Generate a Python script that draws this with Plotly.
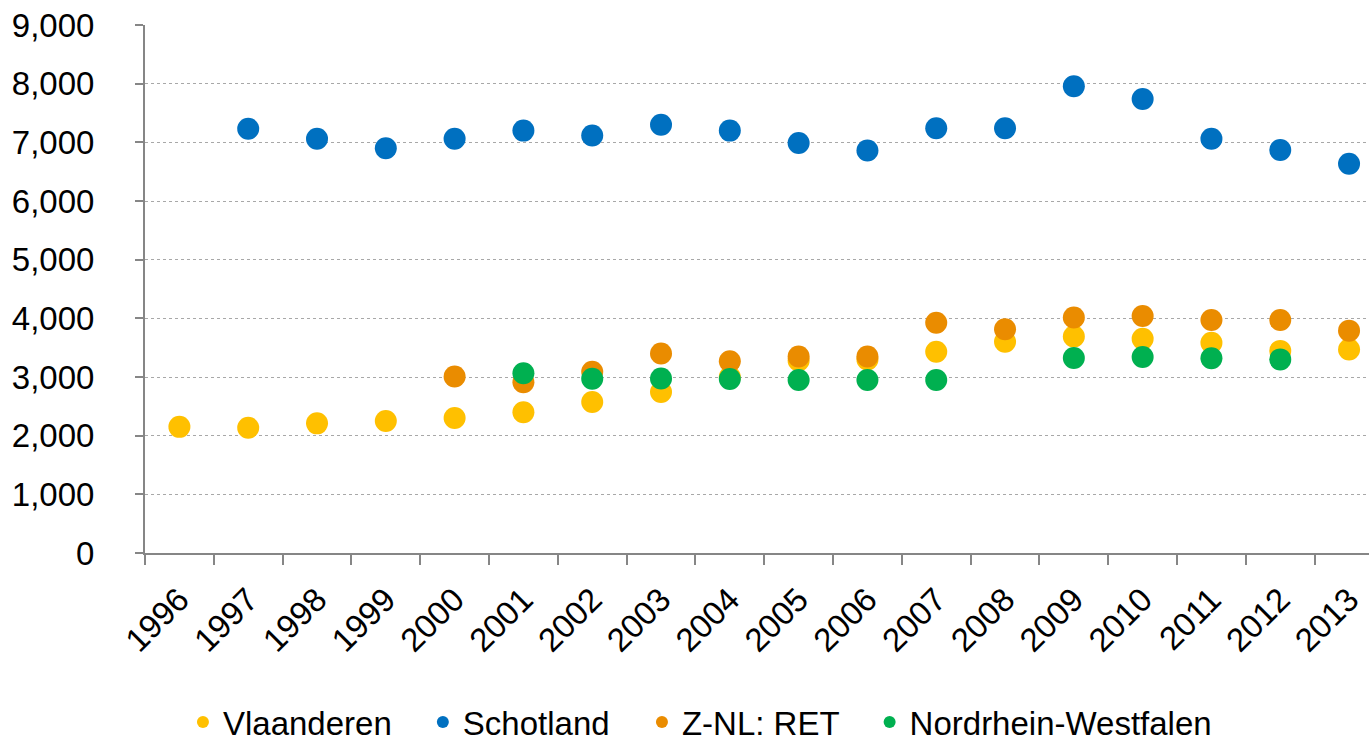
import plotly.graph_objects as go

years = [str(y) for y in range(1996, 2014)]

vlaanderen = [2150, 2135, 2210, 2250, 2300, 2400, 2575, 2745, 3000, 3280,
              3300, 3430, 3600, 3690, 3650, 3585, 3445, 3470]
schotland = [None, 7230, 7060, 6900, 7060, 7200, 7115, 7300, 7200, 6990,
             6860, 7240, 7240, 7955, 7740, 7060, 6870, 6635]
znl_ret = [None, None, None, None, 3010, 2910, 3090, 3400, 3270, 3350,
           3350, 3925, 3815, 4015, 4040, 3970, 3970, 3790]
nrw = [None, None, None, None, None, 3065, 2970, 2975, 2965, 2950,
       2950, 2950, None, 3325, 3340, 3320, 3300, None]

series = [
    ("Vlaanderen", vlaanderen, "#FFC000"),
    ("Schotland", schotland, "#0070C0"),
    ("Z-NL: RET", znl_ret, "#EA8C00"),
    ("Nordrhein-Westfalen", nrw, "#00B050"),
]

y_ticks = list(range(0, 10000, 1000))
y_labels = [f"{v:,}" for v in y_ticks]

# one legend per series so the entries sit in a spaced row under the chart
legend_ids = ["legend", "legend2", "legend3", "legend4"]
legend_x = [0.031, 0.227, 0.406, 0.592]

font = dict(family="Liberation Sans, Arial, sans-serif", size=33, color="#000000")

fig = go.Figure()
for (name, vals, color), lid in zip(series, legend_ids):
    fig.add_trace(go.Scatter(
        x=years, y=vals, name=name, mode="markers", legend=lid,
        marker=dict(size=22, color=color, line=dict(width=0)),
    ))

legend_common = dict(
    orientation="h", xanchor="left", y=-0.32, yanchor="middle",
    font=font, itemsizing="constant", itemwidth=30,
    bgcolor="rgba(0,0,0,0)", borderwidth=0,
)

fig.update_layout(
    width=1369, height=742,
    margin=dict(l=145, r=0, t=25, b=189, autoexpand=False),
    paper_bgcolor="white", plot_bgcolor="white",
    font=font,
    showlegend=True,
    xaxis=dict(
        type="category", tickson="boundaries", tickangle=-45,
        showline=True, linecolor="#868686", linewidth=2,
        ticks="outside", ticklen=10, tickwidth=2, tickcolor="#868686",
        showgrid=False, tickfont=font, range=[-0.5, 17.29],
        automargin=False, ticklabelstandoff=12,
    ),
    yaxis=dict(
        range=[0, 9000], tickvals=y_ticks, ticktext=y_labels,
        showline=True, linecolor="#868686", linewidth=2,
        ticks="outside", ticklen=8, tickwidth=2, tickcolor="#868686",
        showgrid=True, gridcolor="#A8A8A8", gridwidth=1, griddash="dot",
        zeroline=False, tickfont=font, ticklabelstandoff=34,
        automargin=False,
    ),
)
for lid, lx in zip(legend_ids, legend_x):
    fig.update_layout({lid: dict(legend_common, x=lx)})

fig.write_html("out.html")
